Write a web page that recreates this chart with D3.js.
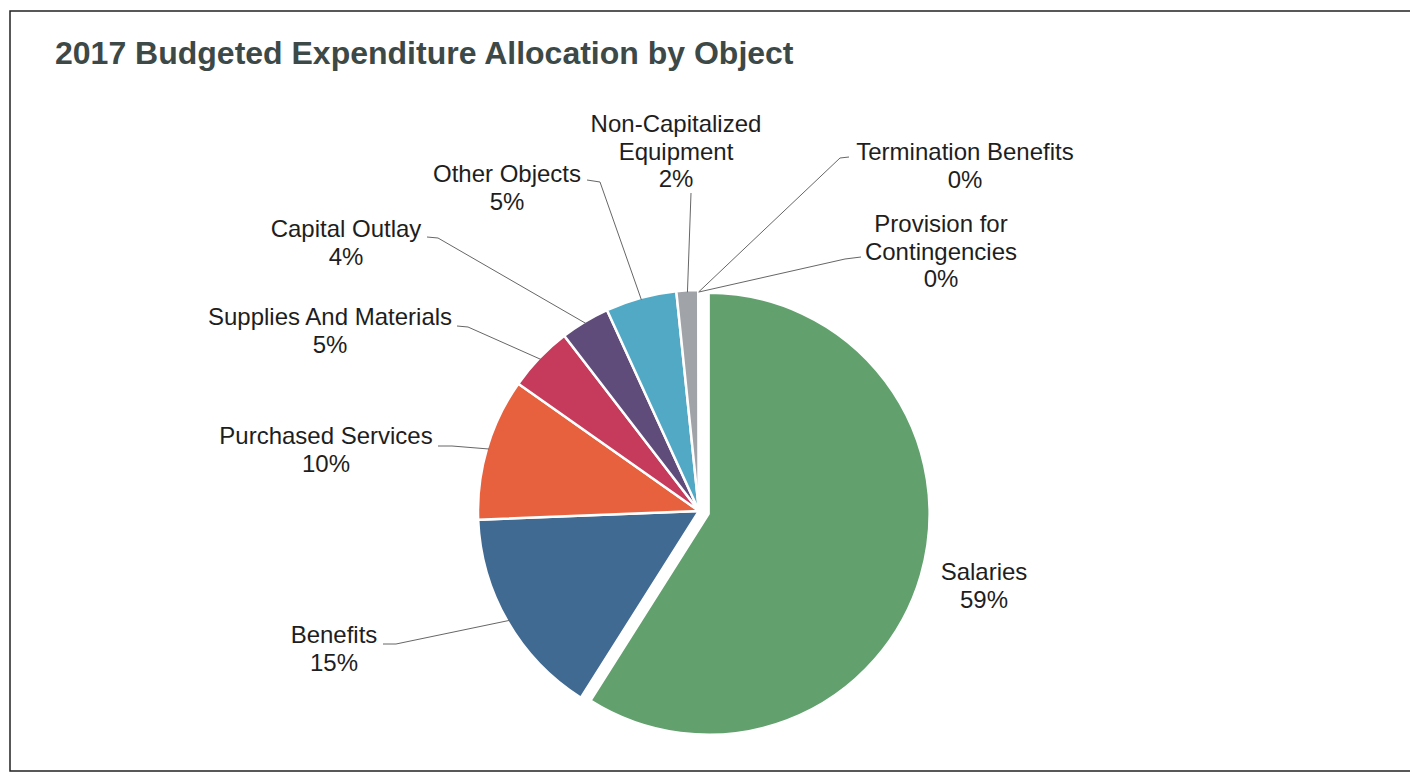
<!DOCTYPE html>
<html>
  <head>
    <meta charset="utf-8">
    <title>2017 Budgeted Expenditure Allocation by Object</title>
    <script src="https://d3js.org/d3.v7.min.js"></script>
    <style>
      body { margin: 0; background: white; }
      #chart { display: block; }
      .title { font-family: "Liberation Sans", Arial, sans-serif; font-weight: bold; font-size: 32px; fill: #3d4947; }
      .label { font-family: "Liberation Sans", Arial, sans-serif; font-size: 24px; fill: #1e1e1e; }
      .leader { fill: none; stroke: #666; stroke-width: 1; }
      .frame { fill: none; stroke: #222; stroke-width: 1.5; }
    </style>
  </head>
  <body>
    <svg id="chart" width="1410" height="775"></svg>
    <script>
      // chart data
      var categories = ["Salaries", "Benefits", "Purchased Services", "Supplies And Materials", "Capital Outlay",
                        "Other Objects", "Non-Capitalized Equipment", "Termination Benefits", "Provision for Contingencies"];
      var values = [59.0, 15.4, 10.4, 4.8, 3.6, 5.2, 1.6, 0.02, 0.02];
      var colours = ["#62a06e", "#416a92", "#e8613e", "#c63b5b", "#5f4c7a", "#52a9c6", "#a0a3a8", "#d9a441", "#7a9b3e"];
      // label lines as printed
      var labelLines = [["Salaries"], ["Benefits"], ["Purchased Services"], ["Supplies And Materials"], ["Capital Outlay"],
                        ["Other Objects"], ["Non-Capitalized", "Equipment"], ["Termination Benefits"], ["Provision for", "Contingencies"]];

      // layout: label centre x, first baseline y, leader start + elbow (null = no leader)
      var labelLayout = [
        { x: 984, y: 580, start: null },
        { x: 334, y: 643, start: [383, 644], elbow: [396, 644] },
        { x: 326, y: 444, start: [438, 446], elbow: [452, 446] },
        { x: 330, y: 325, start: [457, 326], elbow: [468, 327] },
        { x: 346, y: 237, start: [427, 237], elbow: [438, 238] },
        { x: 507, y: 182, start: [587, 180], elbow: [600, 182] },
        { x: 676, y: 132, start: [691, 193], elbow: null },
        { x: 965, y: 160, start: [849, 157], elbow: [840, 158] },
        { x: 941, y: 232, start: [861, 257], elbow: [845, 259] }
      ];

      var svg = d3.select("#chart");
      var cx = 699, cy = 511, radius = 221, explode = 10, lineHeight = 27.5;

      svg.append("path")
        .classed("frame", true)
        .attr("d", "M1420,11H10V771H1420");

      svg.append("text")
        .classed("title", true)
        .attr("x", 55)
        .attr("y", 64)
        .text("2017 Budgeted Expenditure Allocation by Object");

      var data = categories.map(function(c, i) { return { name: c, value: values[i], colour: colours[i], lines: labelLines[i], layout: labelLayout[i] }; });
      var total = d3.sum(values);
      var pct = d3.format(".0%");

      var pie = d3.pie()
        .sort(null)
        .value(function(d) { return d.value; });
      var arc = d3.arc()
        .innerRadius(0)
        .outerRadius(radius);

      var arcs = pie(data);
      var pieGroup = svg.append("g")
        .attr("transform", "translate(" + cx + "," + cy + ")");

      pieGroup.selectAll(".slice")
          .data(arcs)
        .enter().append("path")
          .classed("slice", true)
          .attr("d", arc)
          .attr("fill", function(d) { return d.data.colour; })
          .attr("stroke", "white")
          .attr("stroke-width", 2.5)
          .attr("stroke-linejoin", "round")
          .attr("transform", function(d, i) {
            if (i !== 0) return null;
            var mid = (d.startAngle + d.endAngle) / 2;
            return "translate(" + (Math.sin(mid) * explode) + "," + (-Math.cos(mid) * explode) + ")";
          });

      // leader lines
      svg.selectAll(".leader")
          .data(arcs.filter(function(d) { return d.data.layout.start; }))
        .enter().append("polyline")
          .classed("leader", true)
          .attr("points", function(d) {
            var mid = (d.startAngle + d.endAngle) / 2;
            var end = [cx + Math.sin(mid) * (radius - 2), cy - Math.cos(mid) * (radius - 2)];
            var pts = [d.data.layout.start];
            if (d.data.layout.elbow) pts.push(d.data.layout.elbow);
            pts.push(end);
            return pts.map(function(p) { return p.join(","); }).join(" ");
          });

      // labels
      var labels = svg.selectAll(".label")
          .data(arcs)
        .enter().append("text")
          .classed("label", true)
          .attr("text-anchor", "middle")
          .attr("x", function(d) { return d.data.layout.x; })
          .attr("y", function(d) { return d.data.layout.y; });
      labels.each(function(d) {
        var t = d3.select(this);
        var lines = d.data.lines.concat([pct(d.data.value / total)]);
        lines.forEach(function(l, i) {
          t.append("tspan")
            .attr("x", d.data.layout.x)
            .attr("dy", i === 0 ? 0 : lineHeight)
            .text(l);
        });
      });
    </script>
  </body>
</html>
